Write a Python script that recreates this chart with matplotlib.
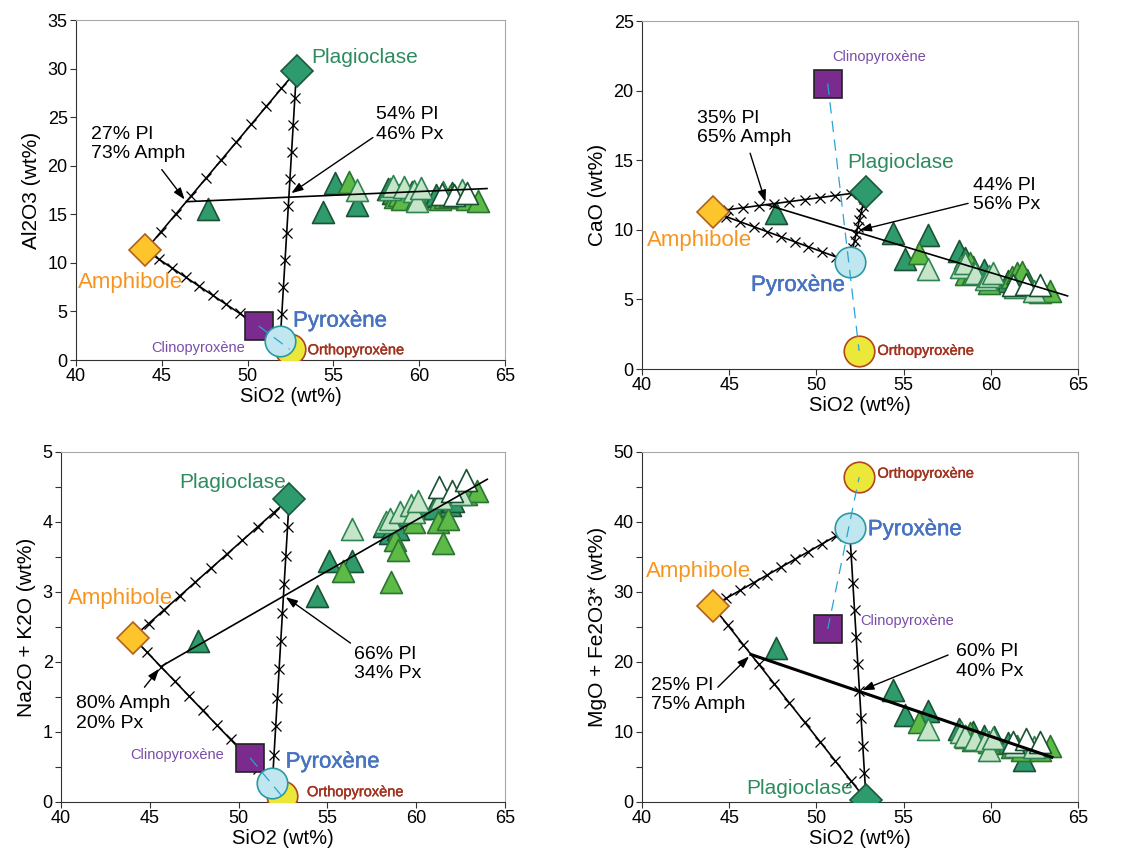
import numpy as np
import matplotlib.pyplot as plt
import matplotlib.patheffects as pe

plt.rcParams['font.family'] = ['Liberation Sans', 'DejaVu Sans']

# ---- samples (triangles), grouped by fill shade ----
# D = dark green, M = mid green, L = light green, W = white
grp = ['D'] * 12 + ['M'] * 10 + ['L'] * 9 + ['W'] * 3
sio2 = [47.7, 54.4, 55.1, 56.4, 58.2, 58.5, 59.0, 59.6, 60.2, 61.0, 61.9, 62.1,
        55.9, 58.6, 58.8, 59.0, 59.9, 61.2, 61.5, 61.8, 62.8, 63.4,
        56.4, 58.3, 58.5, 59.1, 59.7, 59.9, 60.1, 61.4, 62.5,
        61.3, 62.0, 62.8]
al2o3 = [15.5, 15.2, 18.2, 16.0, 17.6, 17.2, 17.0, 17.3, 16.9, 17.0, 17.2, 16.8,
         18.3, 16.8, 17.0, 16.6, 16.7, 16.6, 16.8, 16.9, 16.6, 16.4,
         17.5, 17.6, 17.9, 17.8, 17.4, 16.4, 17.7, 17.3, 17.5,
         17.1, 17.0, 17.2]
cao = [11.2, 9.8, 7.9, 9.6, 8.5, 8.0, 7.3, 7.1, 6.6, 6.3, 6.0, 6.4,
       8.3, 6.8, 7.6, 6.9, 6.2, 6.6, 6.9, 7.0, 5.5, 5.6,
       7.2, 7.3, 7.6, 6.9, 6.5, 6.7, 6.9, 5.9, 5.6,
       6.0, 6.1, 6.0]
nak = [2.3, 2.95, 3.45, 3.45, 3.95, 3.85, 3.9, 4.1, 4.2, 4.2, 4.25, 4.3,
       3.3, 3.15, 3.75, 3.6, 4.0, 4.0, 3.7, 4.05, 4.4, 4.45,
       3.9, 4.0, 4.05, 4.15, 4.25, 4.15, 4.3, 4.35, 4.4,
       4.5, 4.45, 4.6]
mgfe = [22.0, 16.0, 12.5, 13.0, 10.5, 9.5, 10.0, 9.5, 9.3, 8.5, 6.0, 8.3,
        11.5, 9.3, 9.8, 8.8, 8.6, 7.8, 8.0, 7.5, 7.4, 8.0,
        10.5, 10.0, 9.5, 9.0, 8.8, 7.5, 9.2, 8.0, 7.8,
        8.6, 9.0, 8.6]

# ---- end-members: Amph, Plag, Cpx, Opx, Px ----
em_names = ['Amphibole', 'Plagioclase', 'Clinopyroxène', 'Orthopyroxène', 'Pyroxène']
em_sio2 = [44.05, 52.85, 50.65, 52.45, 51.9]
em_al2o3 = [11.3, 29.8, 3.5, 1.1, 2.0]
em_cao = [11.3, 12.75, 20.5, 1.3, 7.7]
em_nak = [2.35, 4.33, 0.63, 0.08, 0.27]
em_mgfe = [28.0, 0.3, 24.7, 46.4, 39.1]

mix_frac = [0.1, 0.2, 0.3, 0.4, 0.5, 0.6, 0.7, 0.8, 0.9]

# trend lines: start on a mixing line (from, to, fraction), end point
trend_start = [(0, 1, 0.27), (0, 1, 0.35), (0, 4, 0.20), (0, 1, 0.25)]
trend_end_x = [63.95, 64.4, 64.0, 63.5]
trend_end_y = [17.65, 5.25, 4.61, 6.4]
cross_frac = [0.54, 0.44, 0.66, 0.60]   # Px -> Plag

note1 = ['27% Pl\n73% Amph', '35% Pl\n65% Amph', '80% Amph\n20% Px', '25% Pl\n75% Amph']
note2 = ['54% Pl\n46% Px', '44% Pl\n56% Px', '66% Pl\n34% Px', '60% Pl\n40% Px']

ylabels = ['Al2O3 (wt%)', 'CaO (wt%)', 'Na2O + K2O (wt%)', 'MgO + Fe2O3* (wt%)']
ylims = [35, 25, 5, 50]
yvals = [al2o3, cao, nak, mgfe]
em_y = [em_al2o3, em_cao, em_nak, em_mgfe]

# layout / style (pixels on a 1142 x 859 canvas)
W, H = 1142, 859
boxes = [(76, 20, 505, 360), (642, 21, 1078, 369), (61, 452, 505, 802), (642, 452, 1078, 802)]
tri_style = {'D': ('#2f9b6d', '#1a5234'), 'M': ('#5dba46', '#2b7431'),
             'L': ('#c6e5c8', '#2e8552'), 'W': ('white', '#1a5234')}
em_marker = ['D', 'D', 's', 'o', 'o']
em_size = [16.5, 16.5, 20, 22, 22]
em_face = ['#fdc52c', '#2e9b6e', '#7b2a8e', '#ece83a', '#c0e6ef']
em_edge = ['#b0601c', '#1b5a3c', '#222222', '#b0461f', '#2a9aa2']
lab_col = ['#f7941e', '#2e8b5e', '#7a4ba8', '#a0321e', '#4673c3']
lab_size = [16, 15, 10.5, 10.5, 16]
lab_stroke = [None, None, None, '#a0321e', '#3a62a8']

# label positions (data coords, left-aligned, centred vertically)
lab_pos = [
    [(40.1, 8.0), (53.7, 31.1), (44.4, 1.25), (53.5, 1.0), (52.65, 4.0)],
    [(40.3, 9.2), (51.75, 14.8), (50.9, 22.4), (53.5, 1.3), (46.25, 6.0)],
    [(40.4, 2.91), (46.65, 4.56), (43.9, 0.67), (53.85, 0.14), (52.65, 0.57)],
    [(40.2, 32.9), (45.95, 2.0), (52.5, 25.9), (53.5, 46.9), (52.95, 38.9)],
]
note1_pos = [(40.9, 22.25), (43.15, 17.3), (40.85, 1.26), (40.5, 15.3)]
note1_tail = [(45.0, 19.6), (46.2, 15.5), (44.7, 1.64), (44.35, 16.4)]
note2_pos = [(57.5, 24.25), (59.0, 12.5), (56.5, 1.97), (58.0, 20.1)]
note2_tail = [(57.3, 22.9), (58.7, 11.9), (56.3, 2.27), (57.55, 21.0)]
trend_lw = [1.2, 1.2, 1.2, 2.2]

fig = plt.figure(figsize=(W / 100, H / 100), dpi=100)

for k in range(4):
    l, t, r, b = boxes[k]
    ax = fig.add_axes([l / W, 1 - b / H, (r - l) / W, (b - t) / H])
    ex, ey = em_sio2, em_y[k]

    # samples
    for g in ['D', 'M', 'L', 'W']:
        idx = [i for i in range(len(sio2)) if grp[i] == g]
        ax.scatter([sio2[i] for i in idx], [yvals[k][i] for i in idx], marker='^', s=250,
                   facecolor=tri_style[g][0], edgecolor=tri_style[g][1], linewidth=1.2, zorder=2)

    # mixing lines with 10 % ticks: Amph-Plag, Amph-Px, Plag-Px
    for a, c in [(0, 1), (0, 4), (1, 4)]:
        ax.plot([ex[a], ex[c]], [ey[a], ey[c]], color='black', lw=1.2, zorder=3)
        f = np.array(mix_frac)
        ax.plot(ex[a] + f * (ex[c] - ex[a]), ey[a] + f * (ey[c] - ey[a]), 'x', color='black',
                ms=7.5, mew=0.9, zorder=3)

    # trend line
    a, c, f = trend_start[k]
    sx, sy = ex[a] + f * (ex[c] - ex[a]), ey[a] + f * (ey[c] - ey[a])
    ax.plot([sx, trend_end_x[k]], [sy, trend_end_y[k]], color='black', lw=trend_lw[k], zorder=3)
    px_x = ex[4] + cross_frac[k] * (ex[1] - ex[4])
    px_y = ey[4] + cross_frac[k] * (ey[1] - ey[4])

    arw = dict(arrowstyle='-|>,head_length=0.7,head_width=0.25', color='black', lw=1,
               shrinkA=0, shrinkB=2)
    ax.annotate('', xy=(sx, sy), xytext=note1_tail[k], arrowprops=arw, zorder=6)
    ax.annotate('', xy=(px_x, px_y), xytext=note2_tail[k], arrowprops=arw, zorder=6)
    ax.text(*note1_pos[k], note1[k], fontsize=14, ha='left', va='center', linespacing=1.2, zorder=7)
    ax.text(*note2_pos[k], note2[k], fontsize=14, ha='left', va='center', linespacing=1.2, zorder=7)

    # end-members (Px circle drawn last so it sits over Opx)
    for j in range(5):
        ax.plot(ex[j], ey[j], marker=em_marker[j], ms=em_size[j], mfc=em_face[j], mec=em_edge[j],
                mew=1.2, ls='none', zorder=4)
    ax.plot([ex[2], ex[3]], [ey[2], ey[3]], ls=(0, (9, 6)), color='#2aa3d4', lw=0.9, zorder=5)

    for j in range(5):
        txt = ax.text(*lab_pos[k][j], em_names[j], color=lab_col[j], fontsize=lab_size[j],
                      ha='left', va='center', zorder=7)
        if lab_stroke[j]:
            txt.set_path_effects([pe.withStroke(linewidth=0.3, foreground=lab_stroke[j])])

    ax.set_xlim(40, 65)
    ax.set_ylim(0, ylims[k])
    ax.set_xticks(range(40, 66, 5))
    if k == 2:
        ax.set_yticks(np.arange(0, 5.1, 1))
        ax.set_yticks(np.arange(0, 5.1, 0.5), minor=True)
    elif k == 3:
        ax.set_yticks(range(0, 51, 10))
        ax.set_yticks(range(0, 51, 5), minor=True)
    else:
        ax.set_yticks(range(0, ylims[k] + 1, 5))
    ax.tick_params(which='both', direction='out', length=4, width=0.8, labelsize=13, pad=2,
                   color='#333333')
    for s in ['top', 'right']:
        ax.spines[s].set_color('#a8a8a8')
    for s in ['left', 'bottom']:
        ax.spines[s].set_color('#333333')
    ax.set_xlabel('SiO2 (wt%)', fontsize=14.5, labelpad=1)
    ax.set_ylabel(ylabels[k], fontsize=15, labelpad=5)

fig.savefig('out.png', dpi=100)
